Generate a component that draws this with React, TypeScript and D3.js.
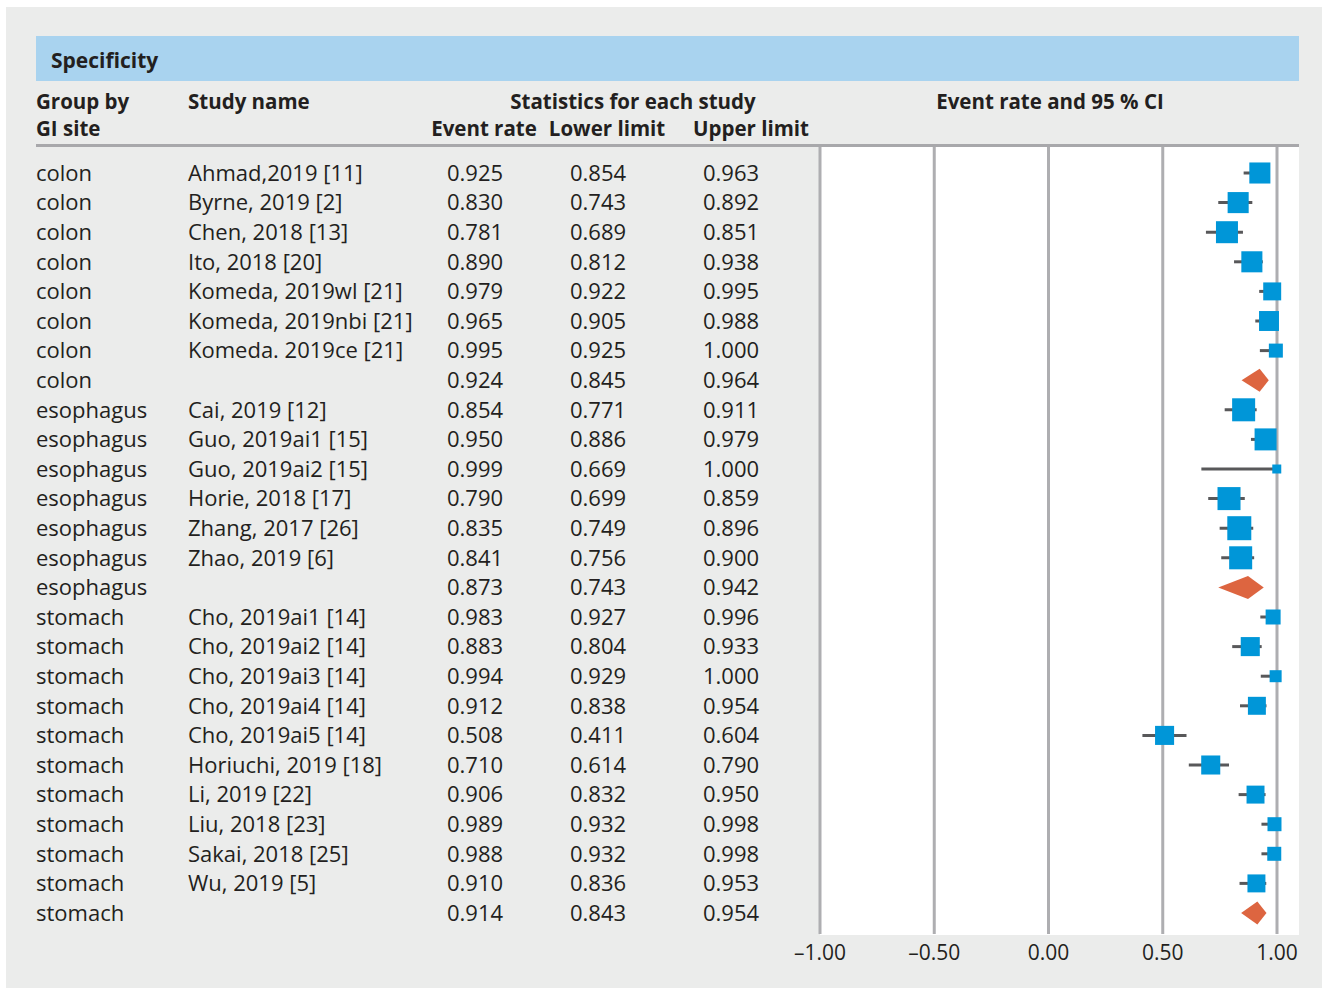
import React from "react";
import * as d3 from "d3";

const groups = ["colon","colon","colon","colon","colon","colon","colon","colon",
  "esophagus","esophagus","esophagus","esophagus","esophagus","esophagus","esophagus",
  "stomach","stomach","stomach","stomach","stomach","stomach","stomach","stomach","stomach","stomach","stomach"];
const studies = ["Ahmad,2019 [11]","Byrne, 2019 [2]","Chen, 2018 [13]","Ito, 2018 [20]","Komeda, 2019wl [21]","Komeda, 2019nbi [21]","Komeda. 2019ce [21]","",
  "Cai, 2019 [12]","Guo, 2019ai1 [15]","Guo, 2019ai2 [15]","Horie, 2018 [17]","Zhang, 2017 [26]","Zhao, 2019 [6]","",
  "Cho, 2019ai1 [14]","Cho, 2019ai2 [14]","Cho, 2019ai3 [14]","Cho, 2019ai4 [14]","Cho, 2019ai5 [14]","Horiuchi, 2019 [18]","Li, 2019 [22]","Liu, 2018 [23]","Sakai, 2018 [25]","Wu, 2019 [5]",""];
const eventRates = [0.925,0.830,0.781,0.890,0.979,0.965,0.995,0.924,
  0.854,0.950,0.999,0.790,0.835,0.841,0.873,
  0.983,0.883,0.994,0.912,0.508,0.710,0.906,0.989,0.988,0.910,0.914];
const lowerLimits = [0.854,0.743,0.689,0.812,0.922,0.905,0.925,0.845,
  0.771,0.886,0.669,0.699,0.749,0.756,0.743,
  0.927,0.804,0.929,0.838,0.411,0.614,0.832,0.932,0.932,0.836,0.843];
const upperLimits = [0.963,0.892,0.851,0.938,0.995,0.988,1.000,0.964,
  0.911,0.979,1.000,0.859,0.896,0.900,0.942,
  0.996,0.933,1.000,0.954,0.604,0.790,0.950,0.998,0.998,0.953,0.954];
// relative study weights (0 = pooled summary row)
const weights = [77,77,84,77,56,69,34,0,
  92,84,14,92,100,92,0,
  39,63,25,56,63,63,56,34,34,56,0];
const isSummary = [false,false,false,false,false,false,false,true,
  false,false,false,false,false,false,true,
  false,false,false,false,false,false,false,false,false,false,true];
const axisTicks = [-1, -0.5, 0, 0.5, 1];

const W = 1330, H = 990;
const FONT = "'Open Sans', sans-serif";

export default function App() {
  const x = d3.scaleLinear().domain([-1, 1]).range([820, 1277]);
  const y = d3.scaleLinear().domain([0, groups.length - 1]).range([173, 913]);
  const size = d3.scaleSqrt().domain([0, 100]).range([0, 24]);
  const fmt = d3.format(".3f");
  const tickFmt = (v: number) => d3.format(".2f")(v).replace("−", "–").replace("-", "–");
  const plotTop = 147, plotBottom = 935, plotRight = 1299;
  const textColor = "#231f20";
  const gridColor = "#aeaeb1";
  const h1 = 102, h2 = 129;

  return (
    <svg width={W} height={H} style={{ position: "absolute", left: 0, top: 0, background: "#fff" }} fontFamily={FONT}>
      <rect x={6} y={7} width={1316} height={981} fill="#ebeceb" />
      <rect x={36} y={36} width={1263} height={45} fill="#a9d3ef" />
      <text x={51} y={61} dy="0.35em" fontSize={21} fontWeight={700} fill={textColor}>Specificity</text>

      <g fontSize={20.5} fontWeight={700} fill={textColor}>
        <text x={36} y={h1} dy="0.35em">Group by</text>
        <text x={36} y={h2} dy="0.35em">GI site</text>
        <text x={188} y={h1} dy="0.35em">Study name</text>
        <text x={633} y={h1} dy="0.35em" textAnchor="middle">Statistics for each study</text>
        <text x={484} y={h2} dy="0.35em" textAnchor="middle">Event rate</text>
        <text x={607} y={h2} dy="0.35em" textAnchor="middle">Lower limit</text>
        <text x={751} y={h2} dy="0.35em" textAnchor="middle">Upper limit</text>
        <text x={1050} y={h1} dy="0.35em" textAnchor="middle">Event rate and 95 % CI</text>
      </g>
      <line x1={36} x2={plotRight} y1={145.5} y2={145.5} stroke="#a8a8ab" strokeWidth={3} />

      <rect x={820} y={plotTop} width={plotRight - 820} height={plotBottom - plotTop} fill="#fff" />
      {axisTicks.map((t) => (
        <line key={t} x1={x(t)} x2={x(t)} y1={plotTop} y2={plotBottom - 1} stroke={gridColor} strokeWidth={3} />
      ))}
      {axisTicks.map((t) => (
        <text key={"l" + t} x={x(t)} y={953} dy="0.35em" textAnchor="middle" fontSize={21} fill={textColor}>{tickFmt(t)}</text>
      ))}

      <g fontSize={22} fill={textColor}>
        {groups.map((g, i) => (
          <g key={i}>
            <text x={36} y={y(i)} dy="0.35em">{g}</text>
            <text x={188} y={y(i)} dy="0.35em">{studies[i]}</text>
            <text x={475} y={y(i)} dy="0.35em" textAnchor="middle">{fmt(eventRates[i])}</text>
            <text x={598} y={y(i)} dy="0.35em" textAnchor="middle">{fmt(lowerLimits[i])}</text>
            <text x={731} y={y(i)} dy="0.35em" textAnchor="middle">{fmt(upperLimits[i])}</text>
          </g>
        ))}
      </g>

      {groups.map((g, i) => {
        const cy = y(i);
        if (isSummary[i]) {
          const h = 11.5;
          const pts = [[x(lowerLimits[i]), cy], [x(eventRates[i]), cy - h], [x(upperLimits[i]), cy], [x(eventRates[i]), cy + h]];
          return <polygon key={"d" + i} points={pts.map((p) => p.join(",")).join(" ")} fill="#dd6540" />;
        }
        const s = size(weights[i]);
        return (
          <g key={"m" + i}>
            <line x1={x(lowerLimits[i])} x2={x(upperLimits[i])} y1={cy} y2={cy} stroke="#58585a" strokeWidth={3} />
            <rect x={x(eventRates[i]) - s / 2} y={cy - s / 2} width={s} height={s} fill="#0096d8" />
          </g>
        );
      })}
    </svg>
  );
}
